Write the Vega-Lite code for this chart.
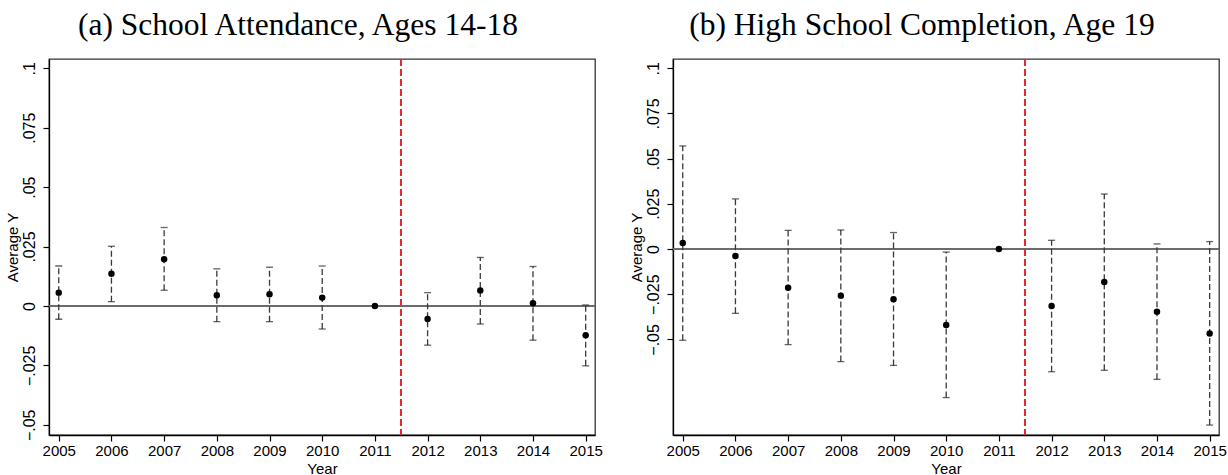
{
  "$schema": "https://vega.github.io/schema/vega-lite/v6.json",
  "background": "white",
  "padding": {"left": 4, "top": 9, "right": 0, "bottom": 0},
  "bounds": "flush",
  "spacing": 78,
  "config": {
    "view": {"stroke": "#333333", "strokeWidth": 1.3},
    "font": "Liberation Sans",
    "axis": {
      "grid": false,
      "domainColor": "#000000",
      "domainWidth": 1.3,
      "tickColor": "#000000",
      "tickWidth": 1.2,
      "tickSize": 6,
      "labelFont": "Liberation Sans",
      "labelFontSize": 15,
      "labelColor": "#000000",
      "titleFont": "Liberation Sans",
      "titleFontSize": 15,
      "titleFontWeight": "normal",
      "titleColor": "#000000"
    },
    "axisX": {"labelPadding": 2, "titlePadding": 3},
    "axisY": {
      "labelAngle": -90,
      "labelAlign": "center",
      "labelBaseline": "middle",
      "labelFontSize": 16,
      "labelPadding": 13.5,
      "titleX": -31.5,
      "titleY": 188,
      "titleAngle": -90,
      "titleAlign": "center",
      "titleBaseline": "alphabetic"
    },
    "title": {
      "font": "Liberation Serif",
      "fontSize": 31.5,
      "fontWeight": "normal",
      "color": "#000000",
      "anchor": "middle",
      "frame": "bounds",
      "dx": -6,
      "offset": 16.5
    }
  },
  "datasets": {
    "attendance": [
      {"year": 2005, "coef": 0.0056, "lo": -0.0056, "hi": 0.0168},
      {"year": 2006, "coef": 0.0135, "lo": 0.0018, "hi": 0.0251},
      {"year": 2007, "coef": 0.0196, "lo": 0.0066, "hi": 0.0330},
      {"year": 2008, "coef": 0.0045, "lo": -0.0066, "hi": 0.0156},
      {"year": 2009, "coef": 0.0049, "lo": -0.0066, "hi": 0.0163},
      {"year": 2010, "coef": 0.0035, "lo": -0.0097, "hi": 0.0168},
      {"year": 2011, "coef": 0.0, "lo": null, "hi": null},
      {"year": 2012, "coef": -0.0055, "lo": -0.0165, "hi": 0.0056},
      {"year": 2013, "coef": 0.0065, "lo": -0.0076, "hi": 0.0204},
      {"year": 2014, "coef": 0.0011, "lo": -0.0144, "hi": 0.0166},
      {"year": 2015, "coef": -0.0123, "lo": -0.0252, "hi": 0.0004}
    ],
    "completion": [
      {"year": 2005, "coef": 0.0033, "lo": -0.0505, "hi": 0.0570},
      {"year": 2006, "coef": -0.0039, "lo": -0.0356, "hi": 0.0277},
      {"year": 2007, "coef": -0.0214, "lo": -0.0529, "hi": 0.0103},
      {"year": 2008, "coef": -0.0258, "lo": -0.0623, "hi": 0.0105},
      {"year": 2009, "coef": -0.0278, "lo": -0.0644, "hi": 0.0091},
      {"year": 2010, "coef": -0.0420, "lo": -0.0822, "hi": -0.0017},
      {"year": 2011, "coef": 0.0, "lo": null, "hi": null},
      {"year": 2012, "coef": -0.0315, "lo": -0.0679, "hi": 0.0048},
      {"year": 2013, "coef": -0.0183, "lo": -0.0671, "hi": 0.0304},
      {"year": 2014, "coef": -0.0347, "lo": -0.0721, "hi": 0.0028},
      {"year": 2015, "coef": -0.0467, "lo": -0.0974, "hi": 0.0041}
    ]
  },
  "hconcat": [
    {
      "title": "(a) School Attendance, Ages 14-18",
      "width": 546,
      "height": 376,
      "data": {"name": "attendance"},
      "encoding": {
        "x": {
          "field": "year",
          "type": "quantitative",
          "title": "Year",
          "scale": {"domain": [2004.815, 2015.177], "nice": false, "zero": false, "padding": 0},
          "axis": {"values": [2005, 2006, 2007, 2008, 2009, 2010, 2011, 2012, 2013, 2014, 2015], "format": "d"}
        }
      },
      "layer": [
        {
          "mark": {"type": "rule", "color": "#6b6b6b", "strokeWidth": 1.6},
          "encoding": {
            "y": {
              "datum": 0,
              "type": "quantitative",
              "title": "Average Y",
              "scale": {"domain": [-0.0543, 0.1039], "nice": false, "zero": false, "padding": 0},
              "axis": {
                "values": [-0.05, -0.025, 0, 0.025, 0.05, 0.075, 0.1],
                "labelExpr": "datum.value == 0 ? '0' : (datum.value < 0 ? '−' + substring(format(-datum.value, '.3~f'), 1) : substring(format(datum.value, '.3~f'), 1))"
              }
            },
            "x": null
          }
        },
        {
          "mark": {"type": "rule", "color": "#e8282e", "strokeWidth": 1.5, "strokeDash": [7, 3]},
          "encoding": {"x": {"datum": 2011.5, "type": "quantitative"}}
        },
        {
          "transform": [{"filter": "datum.lo != null"}],
          "mark": {"type": "rule", "color": "#3a3a3a", "strokeWidth": 1.3, "strokeDash": [6, 3]},
          "encoding": {"y": {"field": "lo", "type": "quantitative", "title": "Average Y"}, "y2": {"field": "hi"}}
        },
        {
          "transform": [{"filter": "datum.lo != null"}],
          "mark": {"type": "tick", "orient": "horizontal", "color": "#222222", "size": 7, "thickness": 1.3},
          "encoding": {"y": {"field": "lo", "type": "quantitative", "title": "Average Y"}}
        },
        {
          "transform": [{"filter": "datum.hi != null"}],
          "mark": {"type": "tick", "orient": "horizontal", "color": "#222222", "size": 7, "thickness": 1.3},
          "encoding": {"y": {"field": "hi", "type": "quantitative", "title": "Average Y"}}
        },
        {
          "mark": {"type": "point", "shape": "circle", "filled": true, "color": "#000000", "opacity": 1, "size": 42},
          "encoding": {"y": {"field": "coef", "type": "quantitative", "title": "Average Y"}}
        }
      ]
    },
    {
      "title": "(b) High School Completion, Age 19",
      "width": 546,
      "height": 376,
      "data": {"name": "completion"},
      "encoding": {
        "x": {
          "field": "year",
          "type": "quantitative",
          "title": "Year",
          "scale": {"domain": [2004.815, 2015.177], "nice": false, "zero": false, "padding": 0},
          "axis": {"values": [2005, 2006, 2007, 2008, 2009, 2010, 2011, 2012, 2013, 2014, 2015], "format": "d"}
        }
      },
      "layer": [
        {
          "mark": {"type": "rule", "color": "#6b6b6b", "strokeWidth": 1.6},
          "encoding": {
            "y": {
              "datum": 0,
              "type": "quantitative",
              "title": "Average Y",
              "scale": {"domain": [-0.1029, 0.1051], "nice": false, "zero": false, "padding": 0},
              "axis": {
                "values": [-0.05, -0.025, 0, 0.025, 0.05, 0.075, 0.1],
                "labelExpr": "datum.value == 0 ? '0' : (datum.value < 0 ? '−' + substring(format(-datum.value, '.3~f'), 1) : substring(format(datum.value, '.3~f'), 1))"
              }
            },
            "x": null
          }
        },
        {
          "mark": {"type": "rule", "color": "#e8282e", "strokeWidth": 1.5, "strokeDash": [7, 3]},
          "encoding": {"x": {"datum": 2011.5, "type": "quantitative"}}
        },
        {
          "transform": [{"filter": "datum.lo != null"}],
          "mark": {"type": "rule", "color": "#3a3a3a", "strokeWidth": 1.3, "strokeDash": [6, 3]},
          "encoding": {"y": {"field": "lo", "type": "quantitative", "title": "Average Y"}, "y2": {"field": "hi"}}
        },
        {
          "transform": [{"filter": "datum.lo != null"}],
          "mark": {"type": "tick", "orient": "horizontal", "color": "#222222", "size": 7, "thickness": 1.3},
          "encoding": {"y": {"field": "lo", "type": "quantitative", "title": "Average Y"}}
        },
        {
          "transform": [{"filter": "datum.hi != null"}],
          "mark": {"type": "tick", "orient": "horizontal", "color": "#222222", "size": 7, "thickness": 1.3},
          "encoding": {"y": {"field": "hi", "type": "quantitative", "title": "Average Y"}}
        },
        {
          "mark": {"type": "point", "shape": "circle", "filled": true, "color": "#000000", "opacity": 1, "size": 42},
          "encoding": {"y": {"field": "coef", "type": "quantitative", "title": "Average Y"}}
        }
      ]
    }
  ]
}
